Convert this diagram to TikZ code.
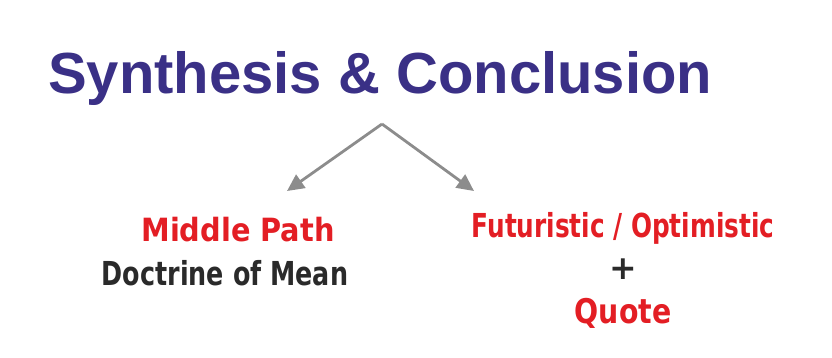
\documentclass[tikz,border=0pt]{standalone}
\usepackage{fontspec}
\setmainfont{DejaVu Sans}
\newfontfamily\titlefont{Liberation Sans}
\newfontfamily\midfont[FakeStretch=0.90]{DejaVu Sans}
\newfontfamily\docfont[FakeStretch=0.77]{DejaVu Sans}
\newfontfamily\futfont[FakeStretch=0.75]{DejaVu Sans}
\newfontfamily\quotefont[FakeStretch=0.835]{DejaVu Sans}
\usetikzlibrary{arrows.meta}
\definecolor{titleblue}{HTML}{3A3086}
\definecolor{redtxt}{HTML}{E31E24}
\definecolor{darktxt}{HTML}{2A2A2A}
\definecolor{arrowgray}{HTML}{8C8C8C}
\tikzset{
  title/.style={font=\titlefont\bfseries\fontsize{58}{66}\selectfont, text=titleblue, anchor=base west, inner sep=0pt},
  lbl/.style={anchor=base, inner sep=0pt},
  branch/.style={draw=arrowgray, line width=2.8pt, -{Triangle[length=17pt,width=16pt]}},
}
\begin{document}
\begin{tikzpicture}[x=1pt,y=1pt]
\useasboundingbox (0,0) rectangle (832,-357);
\node[title] (title) at (48,-93) {Synthesis \& Conclusion};
\coordinate (apex) at (382,-124);
\coordinate (lefttip) at (287,-191);
\coordinate (righttip) at (474,-191);
\draw[branch] (apex) -- (lefttip);
\draw[branch] (apex) -- (righttip);
\node[lbl, font=\midfont\bfseries\fontsize{32}{38}\selectfont, text=redtxt] (middle) at (238,-241) {Middle Path};
\node[lbl, font=\docfont\bfseries\fontsize{33}{38}\selectfont, text=darktxt] (doctrine) at (225,-285) {Doctrine of Mean};
\node[lbl, font=\futfont\bfseries\fontsize{33}{38}\selectfont, text=redtxt] (futur) at (623,-237) {Futuristic / Optimistic};
\node[font=\bfseries\fontsize{33}{36}\selectfont, text=darktxt, inner sep=0pt, anchor=center] (plus) at (623,-269) {+};
\node[lbl, font=\quotefont\bfseries\fontsize{34}{38}\selectfont, text=redtxt] (quote) at (623,-323) {Quote};
\end{tikzpicture}
\end{document}
